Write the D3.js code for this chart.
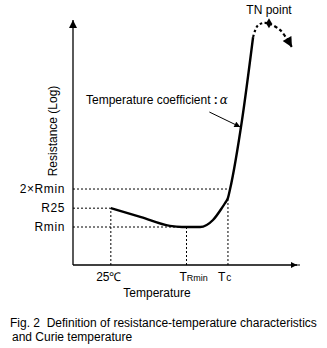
<!DOCTYPE html>
<html><head><meta charset="utf-8">
<script src="https://cdn.jsdelivr.net/npm/d3@7"></script>
<style>
html,body{margin:0;padding:0;background:#fff;}
text{font-family:"Liberation Sans",Arial,sans-serif;fill:#000;}
</style></head>
<body>
<svg id="c" width="327" height="348"></svg>
<script>
// ---- data ----
const xTickValues = [25, 75, 102.4];
const xTickLabels = ["25℃", "TRmin", "Tc"];
const yTickValues = [2, 1.41, 1];
const yTickLabels = ["2×Rmin", "R25", "Rmin"];
const curveT = [25, 45, 64, 72, 84, 92.5, 98.3, 100.5, 102.4, 103.8, 111.7, 119];
const curveR = [1.41, 1.196, 1.02, 1.0, 1.0, 1.136, 1.41, 1.55, 1.7, 2.0, 7.05, 32];
const arcT = [119, 120.5, 122.3, 125.5, 129.5];
const arcR = [32, 36.5, 39.7, 41.3, 41.2];
const dropT = [129.5, 137, 144.7];
const dropR = [41.2, 36.3, 26.6];
const tnPoint = [129.5, 41.2];
const coefTarget = [110.6, 6.2];

const svg = d3.select("#c");
const x = d3.scaleLinear().domain([0, 150]).range([73, 300]);
const y = d3.scaleLog().base(2).domain([0.5, 43.7]).range([265, 20]);

const defs = svg.append("defs");
function mk(id, w, h){
  defs.append("marker").attr("id",id).attr("viewBox","0 0 10 10").attr("refX",10).attr("refY",5)
    .attr("markerWidth",w).attr("markerHeight",h).attr("markerUnits","userSpaceOnUse").attr("orient","auto")
    .append("path").attr("d","M0,0L10,5L0,10Z").attr("fill","#000");
}
mk("ay",12,8); mk("ax",11,6); mk("an",9,6); mk("at",13,10);

const [x0, x1] = x.range();
const [yb, yt] = y.range();

// reference dotted lines
const dot = "2,2";
const curvePts = curveT.map((t,i)=>[t, curveR[i]]);
const hEnds = [103.5, 25, 75];
yTickValues.forEach((v,i)=>{
  svg.append("line").attr("x1",x0).attr("x2",x(hEnds[i])).attr("y1",y(v)).attr("y2",y(v))
    .attr("stroke","#000").attr("stroke-width",1).attr("stroke-dasharray",dot);
});
const vTops = [1.41, 1.0, 1.7];
xTickValues.forEach((v,i)=>{
  svg.append("line").attr("x1",x(v)).attr("x2",x(v)).attr("y1",yb).attr("y2",y(vTops[i]))
    .attr("stroke","#000").attr("stroke-width",1).attr("stroke-dasharray",dot);
});

// axes
svg.append("line").attr("x1",x0).attr("x2",x0).attr("y1",yb).attr("y2",yt)
  .attr("stroke","#000").attr("stroke-width",1.3).attr("marker-end","url(#ay)");
svg.append("line").attr("x1",x0).attr("x2",x1-3).attr("y1",yb).attr("y2",yb)
  .attr("stroke","#000").attr("stroke-width",1.3).attr("marker-end","url(#ax)");
svg.append("line").attr("x1",x1-4).attr("x2",x1).attr("y1",yb).attr("y2",yb)
  .attr("stroke","#000").attr("stroke-width",1);

// main curve
const line = d3.line().x(d=>x(d[0])).y(d=>y(d[1])).curve(d3.curveMonotoneX);
svg.append("path").datum(curvePts).attr("d",line).attr("fill","none")
  .attr("stroke","#000").attr("stroke-width",2.4).attr("stroke-linejoin","round");

// TN dotted arc
const arcLine = d3.line().x(d=>x(d[0])).y(d=>y(d[1])).curve(d3.curveCatmullRom);
svg.append("path").datum(arcT.map((t,i)=>[t,arcR[i]])).attr("d",arcLine).attr("fill","none")
  .attr("stroke","#000").attr("stroke-width",2.2).attr("stroke-dasharray","2.5,2.5");
svg.append("path").datum(dropT.map((t,i)=>[t,dropR[i]])).attr("d",arcLine).attr("fill","none")
  .attr("stroke","#000").attr("stroke-width",2.2).attr("stroke-dasharray","3.5,2.5").attr("marker-end","url(#at)");
svg.append("path").attr("transform",`translate(${x(tnPoint[0])},${y(tnPoint[1])})`)
  .attr("d",d3.symbol(d3.symbolDiamond, 30)()).attr("fill","#000");

// annotation
const tx = x(coefTarget[0]), ty = y(coefTarget[1]);
svg.append("line").attr("x1",tx-31).attr("y1",ty-15).attr("x2",tx).attr("y2",ty)
  .attr("stroke","#000").attr("stroke-width",1).attr("marker-end","url(#an)");
const ann = svg.append("text").attr("x",86).attr("y",104).attr("font-size",12);
ann.append("tspan").text("Temperature coefficient ");
ann.append("tspan").attr("font-weight","bold").text(":");
ann.append("tspan").attr("font-family","'DejaVu Serif',serif").attr("font-style","italic").attr("dx",2).text("α");

svg.append("text").attr("x",x(tnPoint[0])).attr("y",14).attr("text-anchor","middle")
  .attr("font-size",12).text("TN point");

// y tick labels
yTickLabels.forEach((l,i)=>{
  svg.append("text").attr("x",65).attr("y",y(yTickValues[i])+4).attr("text-anchor","end")
    .attr("font-size",12).attr("letter-spacing",0.6).text(l);
});

// x tick labels
svg.append("text").attr("x",x(xTickValues[0])-2).attr("y",281).attr("text-anchor","middle").attr("font-size",12).text(xTickLabels[0]);
const xl1 = svg.append("text").attr("x",x(xTickValues[1])-7).attr("y",281).attr("font-size",12);
xl1.append("tspan").text(xTickLabels[1][0]);
xl1.append("tspan").attr("font-size",9).text(xTickLabels[1].slice(1));
const xl2 = svg.append("text").attr("x",x(xTickValues[2])-10).attr("y",281).attr("font-size",12);
xl2.append("tspan").text(xTickLabels[2][0]);
xl2.append("tspan").attr("dx",1).attr("font-size",10).text(xTickLabels[2].slice(1));

// axis titles
svg.append("text").attr("x",157).attr("y",297).attr("text-anchor","middle").attr("font-size",12).text("Temperature");
svg.append("text").attr("transform","translate(57,131) rotate(-90)").attr("text-anchor","middle")
  .attr("font-size",12).text("Resistance (Log)");

// caption
svg.append("text").attr("x",10).attr("y",327).attr("font-size",12).attr("xml:space","preserve")
  .text("Fig. 2  Definition of resistance-temperature characteristics");
svg.append("text").attr("x",12).attr("y",341).attr("font-size",12).text("and Curie temperature");
</script>
</body></html>
